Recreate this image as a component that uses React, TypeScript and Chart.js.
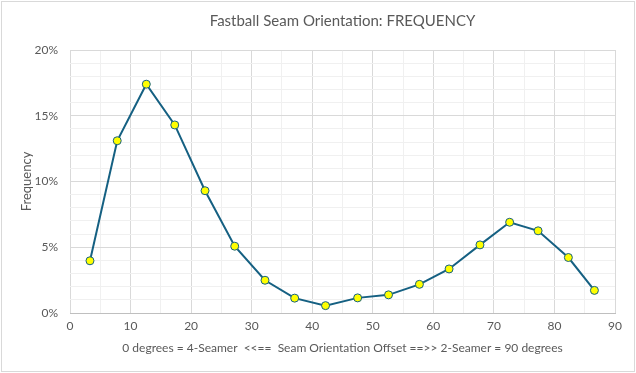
import React, { useEffect, useRef } from "react";
import { Chart, registerables } from "chart.js";

Chart.register(...registerables);

const offsetDegrees = [3.3, 7.8, 12.6, 17.3, 22.3, 27.2, 32.2, 37.1, 42.2, 47.5, 52.6, 57.7, 62.6, 67.7, 72.6, 77.3, 82.3, 86.6];
const frequencyPct = [3.97, 13.1, 17.4, 14.3, 9.3, 5.08, 2.49, 1.13, 0.56, 1.15, 1.38, 2.18, 3.35, 5.18, 6.9, 6.25, 4.22, 1.72];
const xTickLabels = ["0", "10", "20", "30", "40", "50", "60", "70", "80", "90"];
const yTickLabels = ["0%", "5%", "10%", "15%", "20%"];

const chartTitle = "Fastball Seam Orientation: FREQUENCY";
const xTitle = "0 degrees = 4-Seamer  <<==  Seam Orientation Offset ==>> 2-Seamer = 90 degrees";
const yTitle = "Frequency";

const FONT = "Lato, 'Liberation Sans', Arial, sans-serif";
const TEXT = "#595959";
const MAJOR = "#d9d9d9";
const MINOR = "#f0f0f0";

export default function App() {
  const ref = useRef<HTMLCanvasElement | null>(null);
  useEffect(() => {
    document.body.style.margin = "0";
    const canvas = ref.current;
    if (!canvas) return;
    const chart = new Chart(canvas, {
      type: "line",
      data: {
        datasets: [
          {
            data: offsetDegrees.map((x, i) => ({ x, y: frequencyPct[i] })),
            borderColor: "#156082",
            borderWidth: 2,
            backgroundColor: "#FFFF00",
            pointBackgroundColor: "#FFFF00",
            pointBorderColor: "#156082",
            pointBorderWidth: 1,
            pointRadius: 4,
            tension: 0,
          },
        ],
      },
      options: {
        animation: false,
        responsive: false,
        devicePixelRatio: 1,
        layout: { padding: { left: 0, right: 21, top: 0, bottom: 10 } },
        plugins: {
          legend: { display: false },
          tooltip: { enabled: false },
          title: {
            display: true,
            text: chartTitle,
            color: TEXT,
            fullSize: false,
            font: { family: FONT, size: 15, weight: "normal" },
            padding: { top: 12, bottom: 20 },
          },
        },
        scales: {
          x: {
            type: "linear",
            min: 0,
            max: 90,
            afterFit: (s: any) => { s.height = 50; },
            ticks: {
              stepSize: 5,
              autoSkip: false,
              maxRotation: 0,
              color: TEXT,
              padding: 6,
              font: { family: FONT, size: 12 },
              callback: (v: any) => {
                const n = Math.round(Number(v));
                return n % 10 === 0 ? xTickLabels[n / 10] : "";
              },
            },
            grid: {
              drawTicks: false,
              color: (c: any) => (Math.round(c.tick?.value ?? 0) % 10 === 0 ? MAJOR : MINOR),
            },
            border: { color: "#bfbfbf", width: 1 },
            title: {
              display: true,
              text: xTitle,
              color: TEXT,
              font: { family: FONT, size: 12 },
              padding: { top: 0, bottom: 8 },
            },
          },
          y: {
            type: "linear",
            min: 0,
            max: 20,
            afterFit: (s: any) => { s.width = 70; },
            ticks: {
              stepSize: 1,
              autoSkip: false,
              color: TEXT,
              padding: 12,
              font: { family: FONT, size: 12 },
              callback: (v: any) => {
                const n = Math.round(Number(v));
                return n % 5 === 0 ? yTickLabels[n / 5] : "";
              },
            },
            grid: {
              drawTicks: false,
              color: (c: any) => (Math.round(c.tick?.value ?? 0) % 5 === 0 ? MAJOR : MINOR),
            },
            border: { display: false },
            title: {
              display: true,
              text: yTitle,
              color: TEXT,
              font: { family: FONT, size: 13 },
              padding: { top: 19, bottom: 0 },
            },
          },
        },
      },
    });
    return () => chart.destroy();
  }, []);

  return (
    <div style={{ position: "fixed", left: 0, top: 0, width: 636, height: 373, background: "#fff" }}>
      <div
        style={{
          position: "absolute",
          left: 1,
          top: 1,
          width: 634,
          height: 371,
          boxSizing: "border-box",
          border: "1px solid #d9d9d9",
        }}
      />
      <canvas ref={ref} width={636} height={373} style={{ position: "absolute", left: 0, top: 0 }} />
    </div>
  );
}
